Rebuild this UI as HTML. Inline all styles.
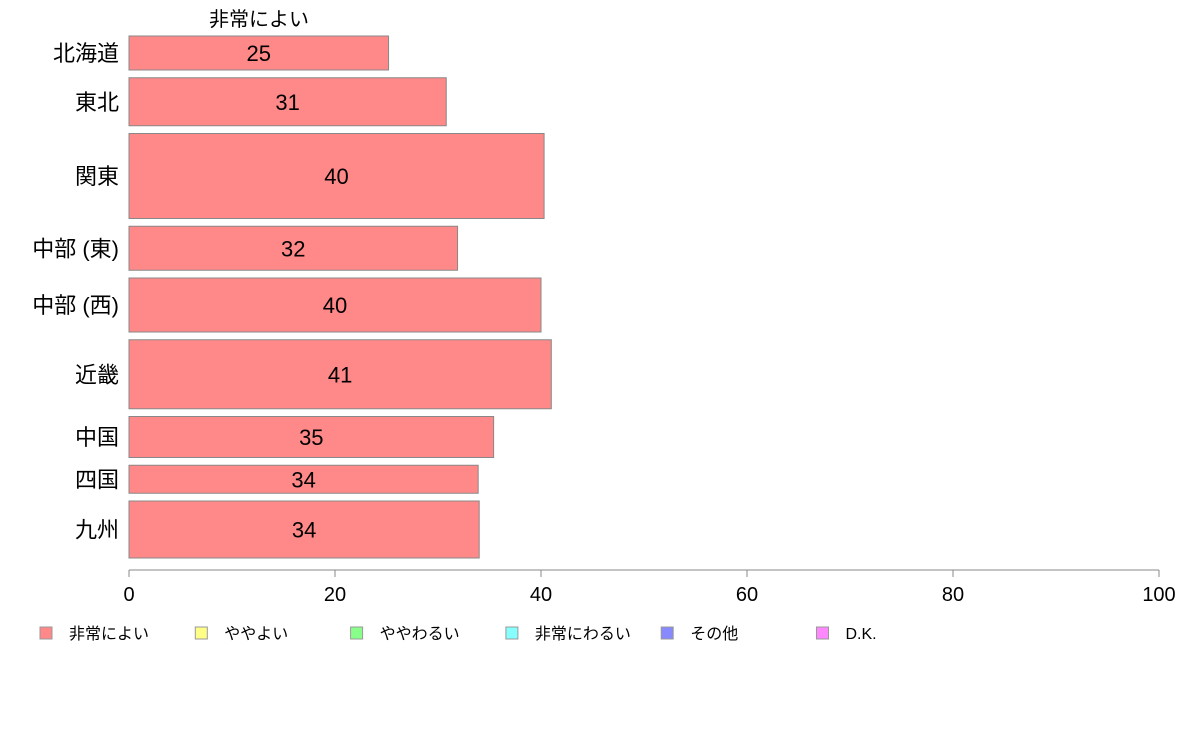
<!DOCTYPE html>
<html><head><meta charset="utf-8"><style>
body{margin:0;background:#fff;}
svg text{font-family:"Liberation Sans","Noto Sans CJK JP",sans-serif;}
</style></head><body>
<svg id="chart" width="1188" height="736" xmlns="http://www.w3.org/2000/svg"></svg>
<script>
const categories=["北海道","東北","関東","中部 (東)","中部 (西)","近畿","中国","四国","九州"];
const values=[25.2,30.8,40.3,31.9,40.0,41.0,35.4,33.9,34.0];
const labels=["25","31","40","32","40","41","35","34","34"];
const weights=[34,48,85,44,54,69,41,28,57];
const ticks=[0,20,40,60,80,100];
const legendNames=["非常によい","ややよい","ややわるい","非常にわるい","その他","D.K."];
const legendColors=["#ff8888","#ffff88","#88ff88","#88ffff","#8888ff","#ff88ff"];
const NS="http://www.w3.org/2000/svg";
const svg=document.getElementById('chart');
const x0=129,x1=1159;
const xs=v=>x0+(x1-x0)*v/100;
const barTop=36,barBottom=558,gap=7.75;
const totalW=weights.reduce((a,b)=>a+b,0);
const avail=barBottom-barTop-gap*(weights.length-1);
function mk(t,a,txt){const e=document.createElementNS(NS,t);for(const k in a)e.setAttribute(k,a[k]);if(txt!==undefined)e.textContent=txt;svg.appendChild(e);return e;}
let y=barTop;
categories.forEach((c,i)=>{
  const h=avail*weights[i]/totalW;
  const r=mk('rect',{x:x0,y:y,width:xs(values[i])-x0,height:h,fill:'#ff8888',stroke:'#888',"stroke-width":1});
  
  
  const t=mk('text',{x:(x0+xs(values[i]))/2,y:y+h/2+8,"font-size":22,"text-anchor":"middle"},labels[i]);
  
  
  const l=mk('text',{x:119,y:y+h/2+8,"font-size":22,"text-anchor":"end"},c);
  
  
  y+=h+gap;
});
const st=mk('text',{x:259,y:26,"font-size":20,"text-anchor":"middle"},"非常によい");


const ax=mk('line',{x1:x0,x2:x1,y1:570,y2:570,stroke:'#888'});


ticks.forEach(v=>{
  const tl=mk('line',{x1:xs(v),x2:xs(v),y1:570,y2:577,stroke:'#888'});
  
  
  const tt=mk('text',{x:xs(v),y:601,"font-size":20,"text-anchor":"middle"},String(v));
  
  
});
legendNames.forEach((n,i)=>{
  const lx=40+i*155.3;
  const b=mk('rect',{x:lx,y:627,width:12,height:12,fill:legendColors[i],stroke:'#999'});
  
  
  const t=mk('text',{x:lx+29,y:639,"font-size":16},n);
  
  
});
</script>
</body></html>
